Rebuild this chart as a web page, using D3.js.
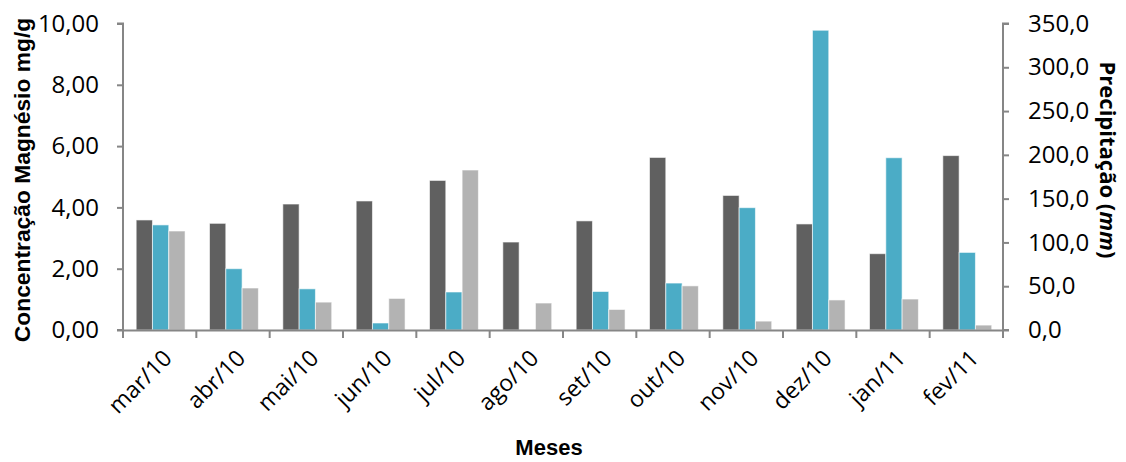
<!DOCTYPE html>
<html><head><meta charset="utf-8">
<script src="https://cdn.jsdelivr.net/npm/d3@7"></script>
<style>body{margin:0;background:#fff}svg{display:block}text{font-family:"Open Sans",sans-serif}</style>
</head><body>
<svg id="c" width="1126" height="462"></svg>
<script>
const months = ["mar/10","abr/10","mai/10","jun/10","jul/10","ago/10","set/10","out/10","nov/10","dez/10","jan/11","fev/11"];
const serieA = [3.59,3.48,4.11,4.21,4.88,2.87,3.56,5.63,4.39,3.46,2.49,5.69];   // mg/g (left axis)
const precip = [120,70,47,8,43.4,0,44,53.6,139.7,342.3,196.7,88.6];          // mm (right axis)
const serieB = [3.23,1.37,0.91,1.03,5.22,0.88,0.67,1.44,0.29,0.98,1.01,0.16];   // mg/g (left axis)
const leftTicks = [0,2,4,6,8,10];
const rightTicks = [0,50,100,150,200,250,300,350];

const svg = d3.select("#c");
const L=123, R=1003, T=23.5, B=330;
const x = d3.scaleBand().domain(months).range([L,R]).paddingInner(0).paddingOuter(0);
const yL = d3.scaleLinear().domain([0,10]).range([B,T]);
const yR = d3.scaleLinear().domain([0,350]).range([B,T]);
const fmtL = d => d.toFixed(2).replace(".",",");
const fmtR = d => d.toFixed(1).replace(".",",");

const bw = 16.3;
const offs = [ -23.5, -7.2, 9.1 ];
const series = [
  {vals: serieA, sc: yL, color:"#606060"},
  {vals: precip, sc: yR, color:"#4BACC6"},
  {vals: serieB, sc: yL, color:"#B3B3B3"}
];
series.forEach((s,i)=>{
  svg.append("g").selectAll("rect").data(months).join("rect")
    .attr("x", (m)=> x(m)+x.bandwidth()/2+offs[i])
    .attr("width", bw)
    .attr("y", (m,j)=> s.sc(s.vals[j]))
    .attr("height", (m,j)=> B - s.sc(s.vals[j]))
    .attr("fill", s.color)
    .attr("stroke", "#ffffff").attr("stroke-opacity",0.6).attr("stroke-width",1);
});

const axisColor = "#868686";
const gL = svg.append("g").attr("transform",`translate(${L},0)`)
  .call(d3.axisLeft(yL).tickValues(leftTicks).tickFormat(fmtL).tickSize(6).tickPadding(18));
const gR = svg.append("g").attr("transform",`translate(${R},0)`)
  .call(d3.axisRight(yR).tickValues(rightTicks).tickFormat(fmtR).tickSize(6).tickPadding(19));
const gB = svg.append("g").attr("transform",`translate(0,${B})`)
  .call(d3.axisBottom(x).tickValues([]).tickSizeOuter(0));
svg.append("g").selectAll("line").data(d3.range(months.length+1)).join("line")
  .attr("x1", i=> L + i*x.bandwidth()).attr("x2", i=> L + i*x.bandwidth())
  .attr("y1", B).attr("y2", B+8).attr("stroke", axisColor).attr("stroke-width",2);

[gL,gR,gB].forEach(g=>{
  g.selectAll(".domain").attr("stroke",axisColor).attr("stroke-width",2);
  g.selectAll(".tick line").attr("stroke",axisColor).attr("stroke-width",2);
  g.selectAll("text").attr("fill","#000").style("font-size","24px").style("font-family","'Open Sans',sans-serif");
});
gL.select(".domain").attr("d", `M-6,${T}H0V${B}H-6`);
gR.select(".domain").attr("d", `M6,${T}H0V${B}H6`);

svg.append("g").selectAll("text").data(months).join("text")
  .attr("transform", m=>`translate(${x(m)+x.bandwidth()/2+8},${354}) rotate(-45)`)
  .attr("text-anchor","end").attr("dy","0.35em")
  .style("font-size","23px").attr("fill","#000").text(m=>m);

svg.append("text").attr("transform","translate(22,180) rotate(-90)")
  .attr("text-anchor","middle").attr("dy","0.35em").style("font-family","'Liberation Sans',Arial,sans-serif")
  .style("font-weight","bold").style("font-size","22.8px").text("Concentração Magnésio mg/g");
const rt = svg.append("text").attr("transform","translate(1108,160) rotate(90)")
  .attr("text-anchor","middle").attr("dy","0.35em").style("font-family","'Open Sans',sans-serif")
  .style("font-weight","bold").style("font-size","22px");
rt.append("tspan").text("Precipitação (");
rt.append("tspan").style("font-style","italic").text("mm");
rt.append("tspan").text(")");
svg.append("text").attr("x",549).attr("y",455).attr("text-anchor","middle")
  .style("font-family","'Liberation Sans',Arial,sans-serif")
  .style("font-weight","bold").style("font-size","22px").text("Meses");
</script>
</body></html>
